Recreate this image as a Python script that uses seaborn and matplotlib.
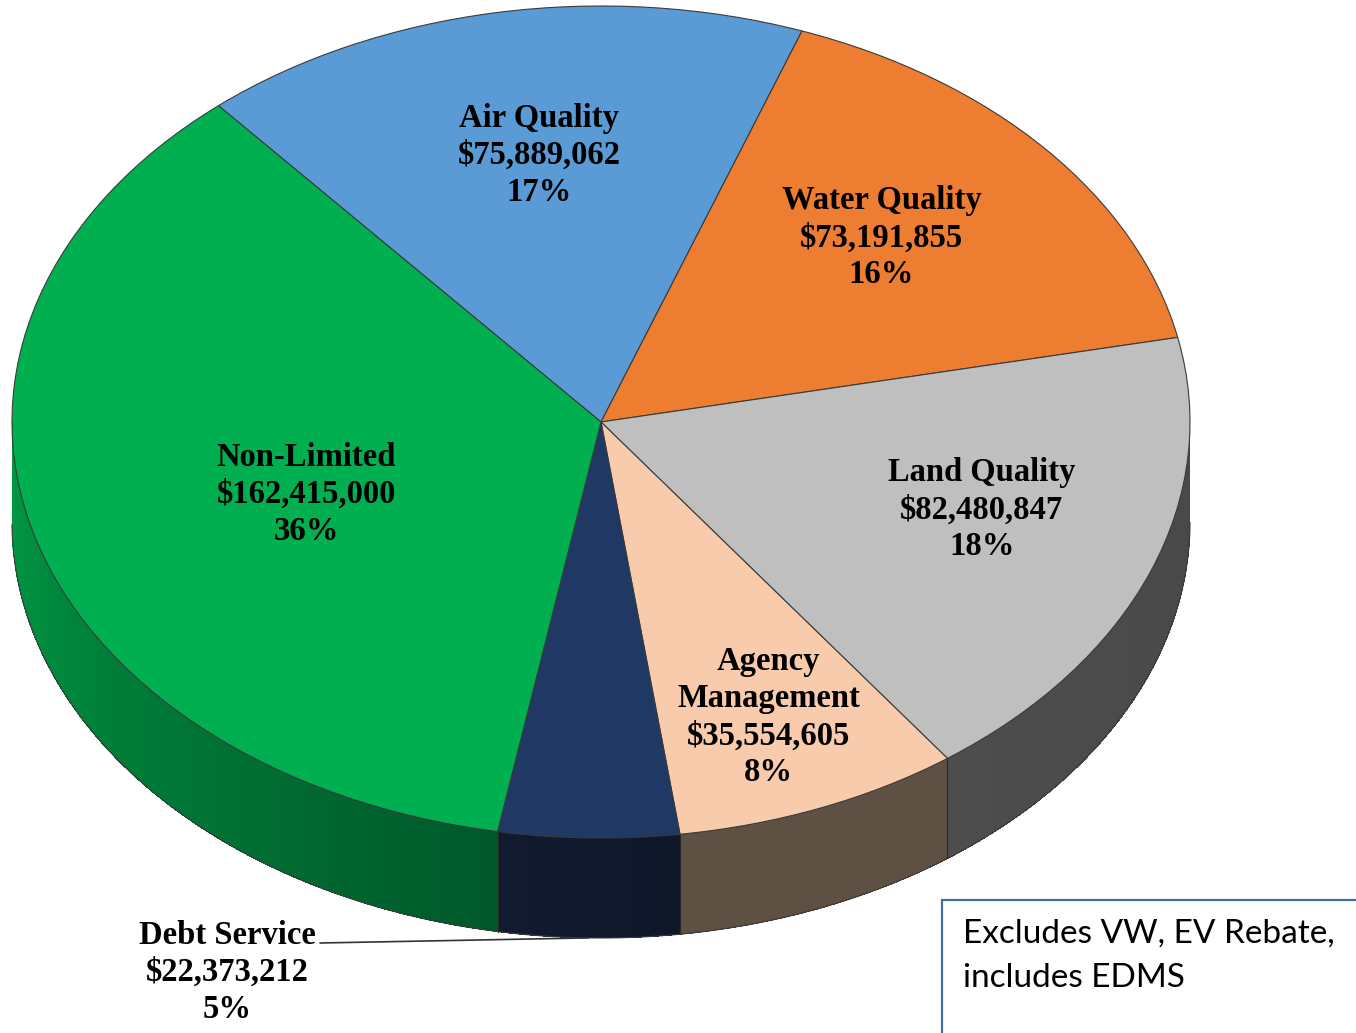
import numpy as np
import matplotlib
matplotlib.use("Agg")
import matplotlib.pyplot as plt
import seaborn as sns
from matplotlib.patches import Polygon, Rectangle

sns.set_theme(style="white")
plt.rcParams['font.family'] = ['Liberation Serif', 'DejaVu Serif']

# slice data, clockwise from the back-left
categories = ['Air Quality', 'Water Quality', 'Land Quality',
              'Agency\nManagement', 'Debt Service', 'Non-Limited']
amounts = [75889062, 73191855, 82480847, 35554605, 22373212, 162415000]

top_colors = ['#5B9BD5', '#ED7D31', '#BFBFBF', '#F8CBAD', '#203864', '#00B050']
side_light = ['#3f6f9c', '#a8561f', '#4d4d4d', '#5f5044', '#111a30', '#009a44']
side_dark = ['#3f6f9c', '#a8561f', '#484848', '#5f5044', '#0f1729', '#00582a']
label_radius = [0.65, 0.65, 0.68, 0.765, None, 0.53]
label_shift = [-1, 2, 3, 0, 0, 4]   # degrees

# pixel geometry of the squashed pie
W, H = 1356, 1033
cx, cy, rx, ry = 601, 422, 589, 416
depth = 100 / ry

fig = plt.figure(figsize=(W / 100, H / 100), dpi=100)
ax = fig.add_axes([0, 0, 1, 1])

wedges, _ = ax.pie(amounts, colors=top_colors, startangle=130.5, counterclock=False,
                   radius=1, center=(0, 0),
                   wedgeprops=dict(edgecolor='#3a3a3a', linewidth=0.8, zorder=3))

# side walls of the visible front half
for w, c1, c2 in zip(wedges, side_light, side_dark):
    ts = np.linspace(w.theta1, w.theta2, 240)
    tm = ts % 360
    vis = (tm > 180) & (tm < 360)
    if not vis.any():
        continue
    lo, hi = tm[vis].min(), tm[vis].max()
    a = np.array(matplotlib.colors.to_rgb(c1))
    b = np.array(matplotlib.colors.to_rgb(c2))
    for i in range(len(ts) - 1):
        if not (vis[i] and vis[i + 1]):
            continue
        t0, t1 = np.radians(ts[i]), np.radians(ts[i + 1])
        f = ((tm[i] - lo) / (hi - lo)) if hi > lo else 0
        col = a + (b - a) * f
        poly = [(np.cos(t0), np.sin(t0) + 0.01), (np.cos(t1), np.sin(t1) + 0.01),
                (np.cos(t1), np.sin(t1) - depth), (np.cos(t0), np.sin(t0) - depth)]
        ax.add_patch(Polygon(poly, closed=True, facecolor=col, edgecolor='none',
                             linewidth=0, antialiased=False, zorder=1))
    tv = np.radians(ts[vis])
    ax.plot(np.cos(tv), np.sin(tv) - depth, color='#3a3a3a', lw=0.8, zorder=2)
    for t in (w.theta1, w.theta2):
        if 180 <= t % 360 <= 360:
            r = np.radians(t)
            ax.plot([np.cos(r)] * 2, [np.sin(r), np.sin(r) - depth],
                    color='#2a2a2a', lw=0.8, zorder=2)

total = sum(amounts)
for w, name, val, rr, sh in zip(wedges, categories, amounts, label_radius, label_shift):
    txt = f"{name}\n${val:,}\n{round(val / total * 100)}%"
    mid = np.radians((w.theta1 + w.theta2) / 2)
    if rr is None:
        # debt service: label outside with leader line
        ex, ey = np.cos(mid), np.sin(mid) - depth
        lx, ly = (227 - cx) / rx, (cy - 972) / ry
        ax.text(lx, ly, txt, ha='center', va='center', fontsize=23.5, color='black',
                fontweight='bold', linespacing=1.25, zorder=5)
        ax.plot([(320 - cx) / rx, ex], [(cy - 943) / ry, ey],
                color='#333333', lw=1.2, zorder=4)
        continue
    m = mid + np.radians(sh)
    ax.text(rr * np.cos(m), rr * np.sin(m), txt, ha='center', va='center',
            fontsize=23.5, fontweight='bold', linespacing=1.25, color='black', zorder=5)

ax.set_aspect('auto')
ax.set_xlim(-cx / rx, (W - cx) / rx)
ax.set_ylim((cy - H) / ry, cy / ry)
ax.axis('off')

# note box
fig.patches.append(Rectangle((942 / W, -0.05), 0.4, (H - 900) / H + 0.05,
                             transform=fig.transFigure, facecolor='white',
                             edgecolor='#41719C', linewidth=1.6, zorder=10))
for line, y in zip(['Excludes VW, EV Rebate,', 'includes EDMS'], [934, 978]):
    fig.text(963 / W, 1 - y / H, line, ha='left', va='center', fontsize=24,
             family=['Lato', 'DejaVu Sans'], color='black', zorder=11)

fig.savefig('out.png', dpi=100)
